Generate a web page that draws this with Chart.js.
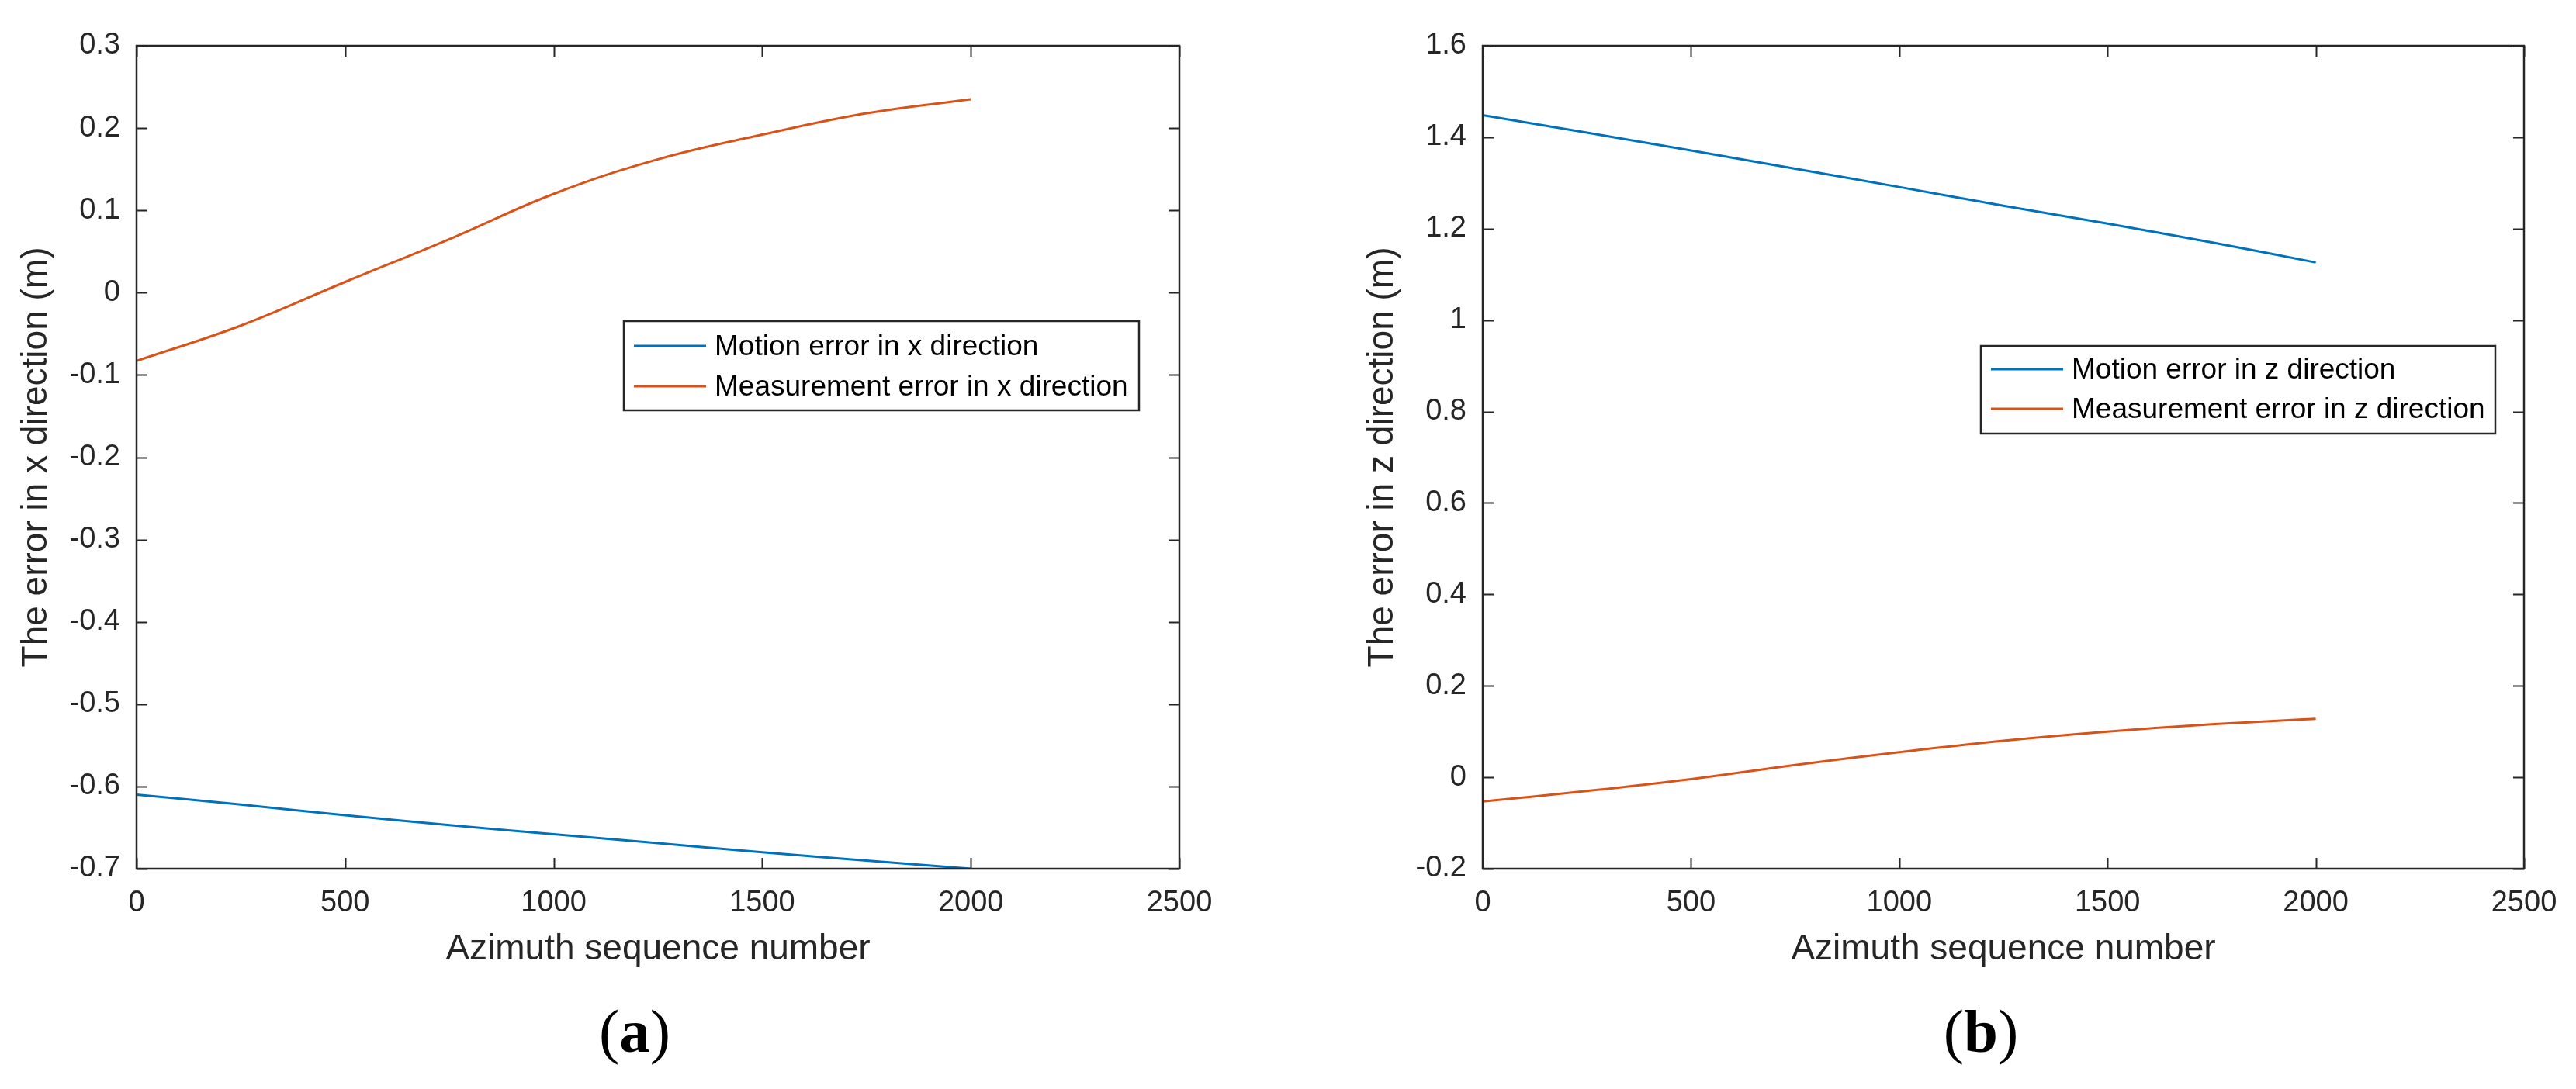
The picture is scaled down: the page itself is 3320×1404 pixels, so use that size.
<!DOCTYPE html>
<html><head><meta charset="utf-8">
<script src="https://cdn.jsdelivr.net/npm/chart.js@4.4.0/dist/chart.umd.min.js"></script>
<style>
html,body{margin:0;padding:0;background:#fff;width:3320px;height:1404px;overflow:hidden}
.wrap{position:absolute;top:0;width:1660px;height:1280px}
.cap{position:absolute;top:1290px;font-family:"Liberation Serif","Times New Roman",serif;font-size:79px;color:#000;transform:translateX(-50%);line-height:1;white-space:nowrap}
</style></head><body>
<div class="wrap" style="left:0"><canvas id="ca" width="1660" height="1280"></canvas></div>
<div class="wrap" style="left:1660px"><canvas id="cb" width="1660" height="1280"></canvas></div>
<div class="cap" style="left:818px">(<b>a</b>)</div>
<div class="cap" style="left:2553px">(<b>b</b>)</div>
<script>
// ---- data ----
const azimuth = [0, 250, 500, 750, 1000, 1250, 1500, 1750, 2000];
const motionX = [-0.610, -0.622, -0.635, -0.647, -0.658, -0.669, -0.680, -0.690, -0.700];
const measX   = [-0.083, -0.040, 0.013, 0.065, 0.120, 0.162, 0.192, 0.218, 0.235];
const motionZ = [1.448, 1.410, 1.371, 1.331, 1.291, 1.250, 1.211, 1.170, 1.126];
const measZ   = [-0.053, -0.030, -0.004, 0.027, 0.055, 0.080, 0.100, 0.116, 0.128];
const xTicks = [0, 500, 1000, 1500, 2000, 2500];
const xTickLabels = ['0', '500', '1000', '1500', '2000', '2500'];
const yTicksA = [-0.7, -0.6, -0.5, -0.4, -0.3, -0.2, -0.1, 0, 0.1, 0.2, 0.3];
const yTickLabelsA = ['-0.7', '-0.6', '-0.5', '-0.4', '-0.3', '-0.2', '-0.1', '0', '0.1', '0.2', '0.3'];
const yTicksB = [-0.2, 0, 0.2, 0.4, 0.6, 0.8, 1.0, 1.2, 1.4, 1.6];
const yTickLabelsB = ['-0.2', '0', '0.2', '0.4', '0.6', '0.8', '1', '1.2', '1.4', '1.6'];
const labelsA = ['Motion error in x direction', 'Measurement error in x direction'];
const labelsB = ['Motion error in z direction', 'Measurement error in z direction'];
const xTitle = 'Azimuth sequence number';
const yTitleA = 'The error in x direction (m)';
const yTitleB = 'The error in z direction (m)';

const BLUE = '#0072BD', ORANGE = '#D95319', AX = '#262626';
const FONT = '"Liberation Sans", Arial, Helvetica, sans-serif';

const pts = (ys) => azimuth.map((x, i) => ({x, y: ys[i]}));

const frame = {
  id: 'frame',
  afterDatasetsDraw(chart, args, o) {
    const {ctx, chartArea: {left, top, right, bottom}, scales: {x, y}} = chart;
    ctx.save();
    ctx.strokeStyle = o.color; ctx.lineWidth = o.width;
    ctx.beginPath();
    x.ticks.forEach(t => {
      const p = Math.round(x.getPixelForValue(t.value)) + 0.5;
      ctx.moveTo(p, bottom); ctx.lineTo(p, bottom - o.len);
      ctx.moveTo(p, top); ctx.lineTo(p, top + o.len);
    });
    y.ticks.forEach(t => {
      const p = Math.round(y.getPixelForValue(t.value)) + 0.5;
      ctx.moveTo(left, p); ctx.lineTo(left + o.len, p);
      ctx.moveTo(right, p); ctx.lineTo(right - o.len, p);
    });
    ctx.stroke();
    ctx.lineWidth = o.boxWidth;
    ctx.strokeRect(left, top, right - left, bottom - top);
    ctx.restore();
  }
};

const boxLegend = {
  id: 'boxLegend',
  afterDraw(chart, args, o) {
    const {ctx, chartArea} = chart;
    const x0 = chartArea.left + o.dx, y0 = chartArea.top + o.dy;
    ctx.save();
    ctx.fillStyle = '#fff'; ctx.fillRect(x0, y0, o.w, o.h);
    ctx.strokeStyle = o.border; ctx.lineWidth = o.borderWidth; ctx.strokeRect(x0, y0, o.w, o.h);
    ctx.font = o.font; ctx.textBaseline = 'middle'; ctx.textAlign = 'left';
    chart.data.datasets.forEach((ds, i) => {
      const cy = y0 + o.firstRow + i * o.rowGap;
      ctx.strokeStyle = ds.borderColor; ctx.lineWidth = ds.borderWidth;
      ctx.beginPath(); ctx.moveTo(x0 + o.lineX0, cy - 2); ctx.lineTo(x0 + o.lineX1, cy - 2); ctx.stroke();
      ctx.fillStyle = o.color;
      ctx.fillText(ds.label, x0 + o.textX, cy);
    });
    ctx.restore();
  }
};

function makeChart(id, s1, s2, labels, yTicks, yLabels, ymin, ymax, yTitle, pad, leg) {
  return new Chart(document.getElementById(id), {
    type: 'line',
    data: {
      datasets: [
        {label: labels[0], data: pts(s1), borderColor: BLUE, borderWidth: 3, pointRadius: 0, tension: 0.4, fill: false},
        {label: labels[1], data: pts(s2), borderColor: ORANGE, borderWidth: 3, pointRadius: 0, tension: 0.4, fill: false}
      ]
    },
    options: {
      responsive: false, animation: false, devicePixelRatio: 1,
      layout: {padding: pad},
      plugins: {
        legend: {display: false}, tooltip: {enabled: false},
        frame: {color: AX, width: 2, boxWidth: 2.5, len: 14},
        boxLegend: Object.assign({border: AX, borderWidth: 2.5, font: '37px ' + FONT, color: '#000',
          lineX0: 13, lineX1: 106, textX: 117}, leg)
      },
      scales: {
        x: {
          type: 'linear', min: 0, max: 2500,
          afterBuildTicks: s => { s.ticks = xTicks.map(v => ({value: v})); },
          afterFit: s => { s.height = 160; },
          ticks: {autoSkip: false, maxRotation: 0, padding: 22, color: AX, font: {family: FONT, size: 38},
            callback: (v, i) => xTickLabels[i]},
          grid: {display: false, drawTicks: false}, border: {display: false},
          title: {display: true, text: xTitle, color: AX, font: {family: FONT, size: 46}, padding: {top: 0, bottom: 28}}
        },
        y: {
          type: 'linear', min: ymin, max: ymax,
          afterBuildTicks: s => { s.ticks = yTicks.map(v => ({value: v})); },
          afterFit: s => { s.width = 176; },
          ticks: {autoSkip: false, padding: 21, color: AX, font: {family: FONT, size: 38},
            callback: (v, i) => yLabels[i]},
          grid: {display: false, drawTicks: false}, border: {display: false},
          title: {display: true, text: yTitle, color: AX, font: {family: FONT, size: 46}, padding: {top: 20, bottom: 0}}
        }
      }
    },
    plugins: [frame, boxLegend]
  });
}

makeChart('ca', motionX, measX, labelsA, yTicksA, yTickLabelsA, -0.7, 0.3, yTitleA,
  {left: 0, top: 59, right: 140, bottom: 0},
  {dx: 628, dy: 355, w: 664, h: 115, firstRow: 34, rowGap: 52});
makeChart('cb', motionZ, measZ, labelsB, yTicksB, yTickLabelsB, -0.2, 1.6, yTitleB,
  {left: 75, top: 59, right: 67, bottom: 0},
  {dx: 642, dy: 387, w: 663, h: 113, firstRow: 32, rowGap: 51});
</script>
</body></html>
